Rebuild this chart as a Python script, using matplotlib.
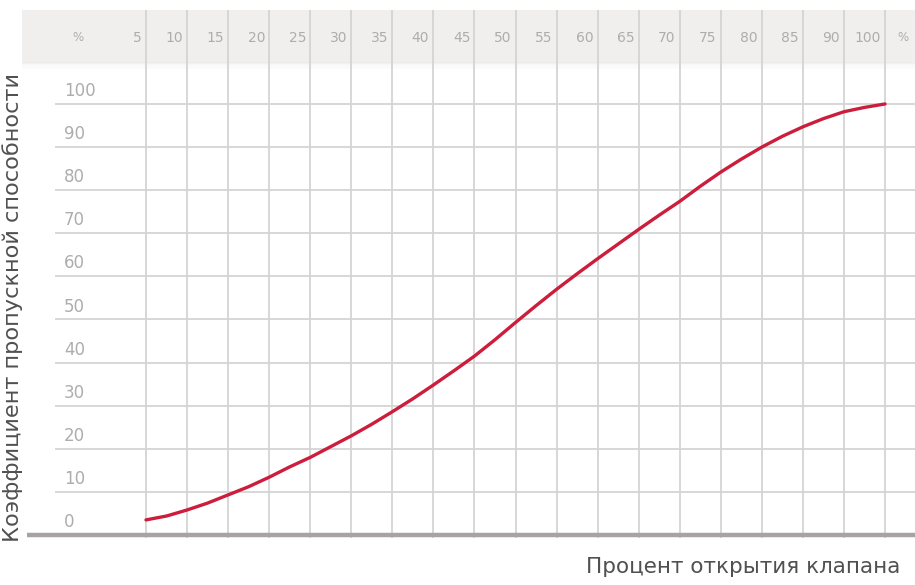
import numpy as np
import matplotlib
matplotlib.use("Agg")
import matplotlib.pyplot as plt

# positions of the vertical grid lines and their captions (last one says 100)
x_pos = np.arange(5, 100, 5)
x_labels = ["5", "10", "15", "20", "25", "30", "35", "40", "45", "50",
            "55", "60", "65", "70", "75", "80", "85", "90", "100"]
y_ticks = np.arange(0, 101, 10)
y_labels = [str(v) for v in y_ticks]

# flow coefficient, at each grid line and halfway between
curve_x = np.arange(5, 95.1, 2.5)
kv = [3.5, 4.4, 5.8, 7.4, 9.3, 11.2, 13.4, 15.8, 18.0, 20.5,
      23.0, 25.7, 28.6, 31.6, 34.8, 38.1, 41.5, 45.3, 49.3, 53.2,
      57.0, 60.6, 64.1, 67.5, 70.9, 74.2, 77.4, 80.9, 84.2, 87.2,
      90.0, 92.5, 94.7, 96.6, 98.2, 99.2, 100.0]

W, H = 915, 585
fig = plt.figure(figsize=(W / 100, H / 100), dpi=100)
ax = fig.add_axes([22 / W, (H - 538) / H, (W - 22) / W, (538 - 10) / H])
ax.set_xlim(-10.1, 98.65)
ax.set_ylim(-0.7, 121.8)
ax.axis("off")

grid_c = "#d4d4d4"
txt_c = "#adadad"
band_top, band_bot = 121.8, 109.7

# header band with soft shadow underneath
ax.fill_between([-10.1, 98.65], band_bot, band_top, color="#f1efee", zorder=0)
for i, a in enumerate([0.5, 0.3, 0.15]):
    ax.fill_between([-10.1, 98.65], band_bot - 0.5 * (i + 1), band_bot - 0.5 * i,
                    color="#ebe9e8", alpha=a, lw=0, zorder=0)

ax.vlines(x_pos, -0.7, band_top, colors=grid_c, lw=1.3, zorder=1)
ax.hlines(y_ticks[1:], -6.1, 98.65, colors=grid_c, lw=1.3, zorder=1)
ax.hlines(0, -9.5, 98.65, colors="#a8a3a2", lw=3.2, zorder=2)

font = "DejaVu Sans"
for xp, lab in zip(x_pos, x_labels):
    ax.text(xp - 0.5, 115.4, lab, ha="right", va="center", fontsize=10,
            color=txt_c, family=font)
ax.text(-3.3, 115.4, "%", ha="center", va="center", fontsize=8.5,
        color=txt_c, family=font)
ax.text(97.2, 115.4, "%", ha="center", va="center", fontsize=8.5,
        color=txt_c, family=font)

for yv, lab in zip(y_ticks, y_labels):
    ax.text(-5.0, yv + 3.0, lab, ha="left", va="center", fontsize=12,
            color=txt_c, family=font)

ax.plot(curve_x, kv, color="#cc1d3c", lw=2.4, solid_capstyle="round", zorder=3)

fig.text(13 / W, 1 - 307 / H, "Коэффициент пропускной способности",
         rotation=90, ha="center", va="center", fontsize=16.2, color="#505050",
         family=font)
fig.text(900 / W, 1 - 567 / H, "Процент открытия клапана", ha="right",
         va="center", fontsize=15.5, color="#505050", family=font)

fig.savefig("out.png", dpi=100)
